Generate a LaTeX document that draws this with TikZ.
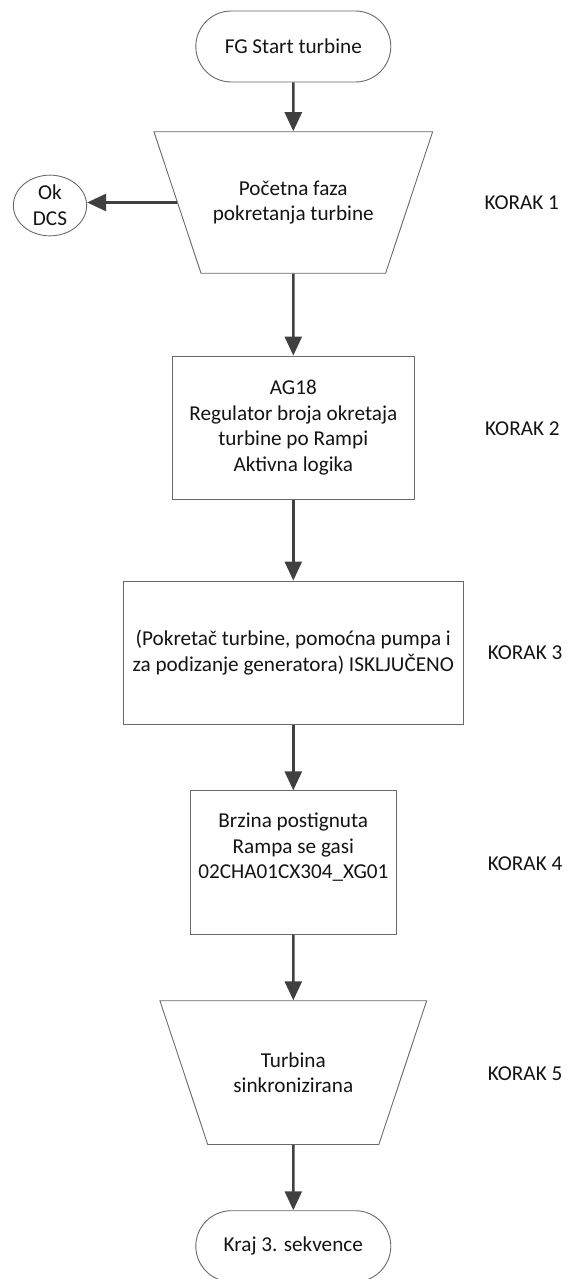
\documentclass[tikz,border=0pt]{standalone}
\usepackage{fontspec}
\setmainfont{Carlito}
\usepackage{tikz}
\usetikzlibrary{positioning, arrows.meta, shapes.geometric, shapes.misc}
\definecolor{ink}{RGB}{20,20,20}
\definecolor{rim}{RGB}{105,105,105}
\definecolor{lead}{RGB}{64,64,64}

\begin{document}
\begin{tikzpicture}[
  x=1pt, y=-1pt,
  every node/.style={font=\fontsize{21.2}{25.6}\selectfont, text=ink},
  term/.style={rounded rectangle, draw=rim, line width=0.9pt,
               minimum width=195pt, minimum height=71pt, inner sep=0pt},
  proc/.style={rectangle, draw=rim, line width=0.9pt, align=center,
               minimum height=143.4pt, inner sep=0pt},
  inp/.style={trapezium, trapezium left angle=71.6, trapezium right angle=71.6,
              shape border rotate=180, trapezium stretches body,
              draw=rim, line width=0.9pt, align=center,
              inner xsep=0pt},
  conn/.style={ellipse, draw=rim, line width=0.9pt, align=center,
               minimum width=73.3pt, minimum height=60.7pt, inner sep=0pt},
  flow/.style={draw=lead, line width=2.6pt, -{Triangle[length=19pt, width=17pt]}},
  korak/.style={anchor=west, inner sep=0pt}]
  \useasboundingbox (0,0) rectangle (566,1279);
  \node[term] (start) at (293.3,46.5) {FG Start turbine};
  \node[inp, inner ysep=48.9pt, minimum width=278.7pt] (faza) at (293.3,202.5)
    {Početna faza\\pokretanja turbine};
  \node[conn] (ok) at (50,205.5) {Ok\\DCS};
  \node[proc, minimum width=242.7pt] (reg) at (293.3,427.7)
    {AG18\\Regulator broja okretaja\\turbine po Rampi\\Aktivna logika};
  \node[proc, minimum width=340.7pt] (iskl) at (293.3,652.7)
    {(Pokretač turbine, pomoćna pumpa i\\za podizanje generatora) ISKLJUČENO};
  \node[proc, minimum width=206pt] (brz) at (293.3,862.5)
    {Brzina postignuta\\Rampa se gasi\\02CHA01CX304\_XG01\\\strut};
  \node[inp, inner ysep=51.6pt, minimum width=266.7pt] (sink) at (293.3,1072.6)
    {Turbina\\sinkronizirana};
  \node[term] (kraj) at (293.3,1246.2) {Kraj 3. sekvence};
  \node[korak] (k1) at (484.3,202.7) {KORAK 1};
  \node[korak] (k2) at (485,428.3) {KORAK 2};
  \node[korak] (k3) at (487.7,652.3) {KORAK 3};
  \node[korak] (k4) at (487.7,863.3) {KORAK 4};
  \node[korak] (k5) at (487.7,1073.3) {KORAK 5};
  \draw[flow] (start) -- (faza);
  \draw[flow] (faza.west) -- (ok.east |- faza.west);
  \draw[flow] (faza) -- (reg);
  \draw[flow] (reg) -- (iskl);
  \draw[flow] (iskl) -- (brz);
  \draw[flow] (brz) -- (sink);
  \draw[flow] (sink) -- (kraj);
\end{tikzpicture}
\end{document}
